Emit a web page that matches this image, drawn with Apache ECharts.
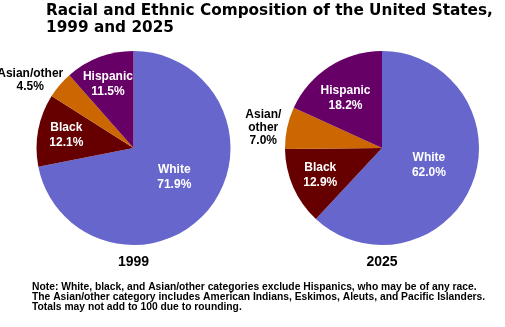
<!DOCTYPE html>
<html><head><meta charset="utf-8">
<script src="https://cdn.jsdelivr.net/npm/echarts@6/dist/echarts.min.js"></script>
<style>html,body{margin:0;padding:0;background:#fff}#c{width:505px;height:327px}</style>
</head><body><div id="c"></div>
<script>
const categories = ['White', 'Black', 'Asian/other', 'Hispanic'];
const years = ['1999', '2025'];
const values1999 = [71.9, 12.1, 4.5, 11.5];
const values2025 = [62.0, 12.9, 7.0, 18.2];
const palette = ['#6666CC', '#660000', '#CC6600', '#660066'];
const titleText = 'Racial and Ethnic Composition of the United States,\n1999 and 2025';
const noteLines = [
  'Note: White, black, and Asian/other categories exclude Hispanics, who may be of any race.',
  'The Asian/other category includes American Indians, Eskimos, Aleuts, and Pacific Islanders.',
  'Totals may not add to 100 due to rounding.'
];

const FONT = '"Liberation Sans", Arial, Helvetica, sans-serif';
const R = 97;
// label nudges (pixels) per category: [dx, dy]
const pies = [
  { values: values1999, center: [133.5, 148], midR0: 0.43 * R, outR1: 1.52 * R, wrap: false,
    nudge: { 'White': [1, -4], 'Black': [4, 1], 'Asian/other': [-8, 14], 'Hispanic': [0, 4] } },
  { values: values2025, center: [382, 148], midR0: 0.33 * R, outR1: 1.44 * R, wrap: true,
    nudge: { 'White': [-1, -2], 'Black': [0, 0], 'Asian/other': [0, 5], 'Hispanic': [0, 7] } }
];
// which ring carries each category's label
const ring = { 'White': 'main', 'Black': 'mid', 'Asian/other': 'out', 'Hispanic': 'mid' };

function fmt(wrap) {
  return p => (wrap ? p.name.replace('/', '/\n') : p.name) + '\n' + p.value.toFixed(1) + '%';
}

const series = [];
pies.forEach(pc => {
  const mk = (which) => categories.map((c, i) => ({
    name: c, value: pc.values[i],
    itemStyle: { color: which === 'main' ? palette[i] : 'rgba(0,0,0,0)' },
    label: { show: ring[c] === which }
  }));
  const layout = (p) => {
    const n = pc.nudge[categories[p.dataIndex]] || [0, 0];
    return { dx: n[0], dy: n[1] };
  };
  const base = {
    type: 'pie', center: pc.center, startAngle: 90, clockwise: true,
    animation: false, avoidLabelOverlap: false, labelLine: { show: false },
    emphasis: { disabled: true }, labelLayout: layout
  };
  series.push(Object.assign({}, base, {
    radius: R, data: mk('main'),
    label: { position: 'inside', color: '#fff', fontFamily: FONT, fontWeight: 'bold', fontSize: 12, lineHeight: 15, formatter: fmt(false) }
  }));
  series.push(Object.assign({}, base, {
    radius: [pc.midR0, R], data: mk('mid'), silent: true,
    label: { position: 'inside', color: '#fff', fontFamily: FONT, fontWeight: 'bold', fontSize: 12, lineHeight: 15, formatter: fmt(false) }
  }));
  series.push(Object.assign({}, base, {
    radius: [R, pc.outR1], data: mk('out'), silent: true,
    label: { position: 'inside', color: '#000', fontFamily: FONT, fontWeight: 'bold', fontSize: 12, lineHeight: 13, formatter: fmt(pc.wrap) }
  }));
});

const graphic = years.map((y, k) => ({
  type: 'text', x: pies[k].center[0], y: 262,
  style: { text: y, font: 'bold 14px ' + FONT, fill: '#000', align: 'center', verticalAlign: 'middle' }
}));
graphic.push({
  type: 'text', x: 32, y: 282,
  style: { text: noteLines.join('\n'), font: 'bold 10.3px ' + FONT, lineHeight: 10, fill: '#000', align: 'left', verticalAlign: 'top' }
});

const chart = echarts.init(document.getElementById('c'), null, { renderer: 'canvas' });
chart.setOption({
  backgroundColor: '#fff',
  animation: false,
  title: {
    text: titleText, left: 46, top: 3, padding: 0,
    textStyle: { fontFamily: '"DejaVu Sans", sans-serif', fontWeight: 'bold', fontSize: 15.3, lineHeight: 17, color: '#000' }
  },
  series: series,
  graphic: graphic
});
</script></body></html>
